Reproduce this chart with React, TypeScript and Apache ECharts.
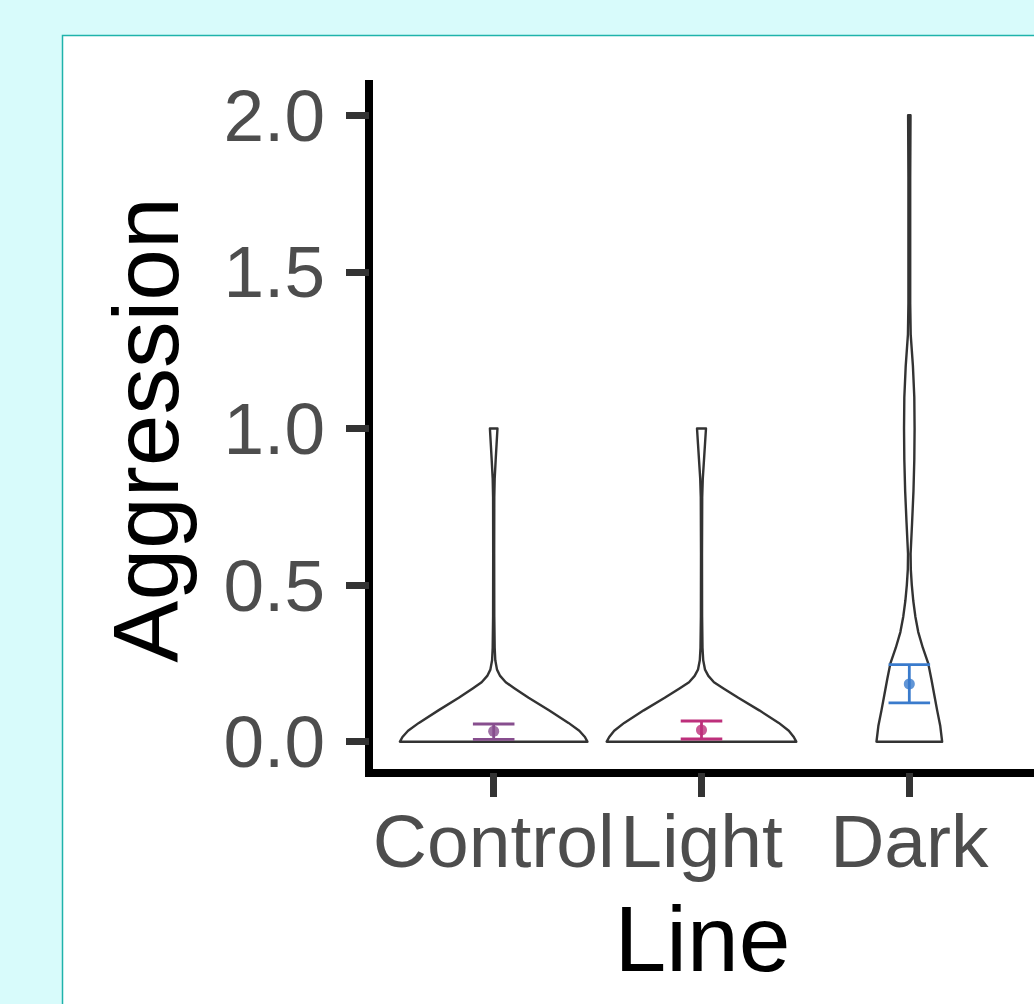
import React, { useEffect, useRef } from 'react';
import * as echarts from 'echarts';

// ---- data ----
const categories = ['Control', 'Light', 'Dark'];
const categoryPositions = [1, 2, 3];
const yTickValues = [0, 0.5, 1.0, 1.5, 2.0];

const meanValues = [0.033, 0.037, 0.184];
const lowerValues = [0.0074, 0.0086, 0.124];
const upperValues = [0.0565, 0.066, 0.246];
const groupColors = ['#874e8e', '#bd2f7b', '#3a7bcc'];

// violin outlines: [Aggression value, half width in category units]
const controlViolin = [
  [0, 0.451], [0.015, 0.439], [0.035, 0.412], [0.06, 0.36], [0.1, 0.266],
  [0.14, 0.168], [0.17, 0.101], [0.19, 0.058], [0.21, 0.031], [0.23, 0.016],
  [0.26, 0.0077], [0.3, 0.0048], [0.4, 0.0029], [0.6, 0.0024], [0.78, 0.0029],
  [0.84, 0.0048], [0.9, 0.0096], [0.95, 0.0139], [1.0, 0.0182],
];
const lightViolin = [
  [0, 0.456], [0.015, 0.444], [0.035, 0.42], [0.06, 0.372], [0.1, 0.278],
  [0.14, 0.177], [0.17, 0.106], [0.19, 0.06], [0.21, 0.033], [0.23, 0.017],
  [0.26, 0.0082], [0.3, 0.0048], [0.4, 0.0029], [0.6, 0.0024], [0.78, 0.0034],
  [0.84, 0.0062], [0.9, 0.012], [0.95, 0.0168], [1.0, 0.0216],
];
const darkViolin = [
  [0, 0.158], [0.05, 0.149], [0.1, 0.134], [0.15, 0.12], [0.2, 0.106],
  [0.25, 0.091], [0.3, 0.065], [0.35, 0.043], [0.4, 0.029], [0.45, 0.019],
  [0.5, 0.012], [0.55, 0.0072], [0.6, 0.0062], [0.7, 0.0134], [0.8, 0.02],
  [0.9, 0.024], [1.0, 0.0254], [1.1, 0.024], [1.2, 0.0173], [1.3, 0.0067],
  [1.4, 0.0043], [1.6, 0.0043], [1.8, 0.0043], [2.0, 0.0058],
];
const violins = [controlViolin, lightViolin, darkViolin];

const FONT = '"Liberation Sans", Arial, Helvetica, sans-serif';

export default function App() {
  const ref = useRef<HTMLDivElement>(null);

  useEffect(() => {
    if (!ref.current) return;
    const chart = echarts.init(ref.current, undefined, { renderer: 'svg' });

    const option: any = {
      animation: false,
      backgroundColor: '#d8fbfb',
      grid: { left: 369, top: 84, width: 667, height: 689, containLabel: false },
      xAxis: {
        type: 'value',
        min: 0.4,
        max: 3.6,
        splitLine: { show: false },
        axisLine: { show: true, onZero: false, lineStyle: { color: '#000', width: 8, cap: 'square' } },
        axisTick: {
          show: true,
          customValues: categoryPositions,
          length: 24,
          lineStyle: { color: '#333', width: 7 },
        },
        axisLabel: {
          show: true,
          customValues: categoryPositions,
          formatter: (v: number) => categories[Math.round(v) - 1] ?? '',
          fontSize: 75,
          fontFamily: FONT,
          color: '#4d4d4d',
          margin: 30,
        },
      },
      yAxis: {
        type: 'value',
        min: -0.1,
        max: 2.1,
        splitLine: { show: false },
        axisLine: { show: true, onZero: false, lineStyle: { color: '#000', width: 8, cap: 'square' } },
        axisTick: {
          show: true,
          customValues: yTickValues,
          length: 23,
          lineStyle: { color: '#333', width: 7 },
        },
        axisLabel: {
          show: true,
          customValues: yTickValues,
          formatter: (v: number) => v.toFixed(1),
          fontSize: 73,
          fontFamily: FONT,
          color: '#4d4d4d',
          margin: 44,
        },
      },
      graphic: [
        {
          type: 'rect',
          z: -10,
          shape: { x: 62.5, y: 35.5, width: 1100, height: 1100 },
          style: { fill: '#ffffff', stroke: '#1fb3ab', lineWidth: 1.5 },
          silent: true,
        },
        {
          type: 'text',
          z: 10,
          x: 146,
          y: 430,
          rotation: Math.PI / 2,
          style: {
            text: 'Aggression',
            fontSize: 93,
            fontFamily: FONT,
            fill: '#000',
            textAlign: 'center',
            textVerticalAlign: 'middle',
          },
        },
        {
          type: 'text',
          z: 10,
          x: 702.5,
          y: 939,
          style: {
            text: 'Line',
            fontSize: 93,
            fontFamily: FONT,
            fill: '#000',
            textAlign: 'center',
            textVerticalAlign: 'middle',
          },
        },
      ],
      series: [
        {
          type: 'custom',
          name: 'violin',
          data: categoryPositions.map((p, i) => [p, meanValues[i]]),
          encode: { x: 0, y: 1 },
          renderItem: (params: any, api: any) => {
            const i = params.dataIndex;
            const prof = violins[i];
            const cx = categoryPositions[i];
            const right = prof.map(([v, w]) => api.coord([cx + w, v]));
            const left = prof
              .slice()
              .reverse()
              .map(([v, w]) => api.coord([cx - w, v]));
            return {
              type: 'polygon',
              shape: { points: right.concat(left) },
              style: { fill: '#ffffff', stroke: '#333333', lineWidth: 2.4, lineJoin: 'round' },
            };
          },
          z: 2,
        },
        {
          type: 'custom',
          name: 'errorbar',
          data: categoryPositions.map((p, i) => [p, lowerValues[i], upperValues[i]]),
          encode: { x: 0, y: [1, 2] },
          renderItem: (params: any, api: any) => {
            const i = params.dataIndex;
            const cx = categoryPositions[i];
            const lo = lowerValues[i];
            const hi = upperValues[i];
            const hw = 0.1;
            const color = groupColors[i];
            const a = api.coord([cx - hw, hi]);
            const b = api.coord([cx + hw, hi]);
            const c = api.coord([cx - hw, lo]);
            const d = api.coord([cx + hw, lo]);
            const m1 = api.coord([cx, hi]);
            const m2 = api.coord([cx, lo]);
            const st = { stroke: color, lineWidth: 2.8 };
            return {
              type: 'group',
              children: [
                { type: 'line', shape: { x1: a[0], y1: a[1], x2: b[0], y2: b[1] }, style: st },
                { type: 'line', shape: { x1: c[0], y1: c[1], x2: d[0], y2: d[1] }, style: st },
                { type: 'line', shape: { x1: m1[0], y1: m1[1], x2: m2[0], y2: m2[1] }, style: st },
              ],
            };
          },
          z: 3,
        },
        {
          type: 'scatter',
          name: 'mean',
          symbol: 'circle',
          symbolSize: 11,
          data: categoryPositions.map((p, i) => ({
            value: [p, meanValues[i]],
            itemStyle: { color: groupColors[i] },
          })),
          z: 4,
        },
      ],
    };

    chart.setOption(option);
    return () => chart.dispose();
  }, []);

  return (
    <div
      ref={ref}
      style={{ position: 'absolute', left: 0, top: 0, width: 1034, height: 1004 }}
    />
  );
}
